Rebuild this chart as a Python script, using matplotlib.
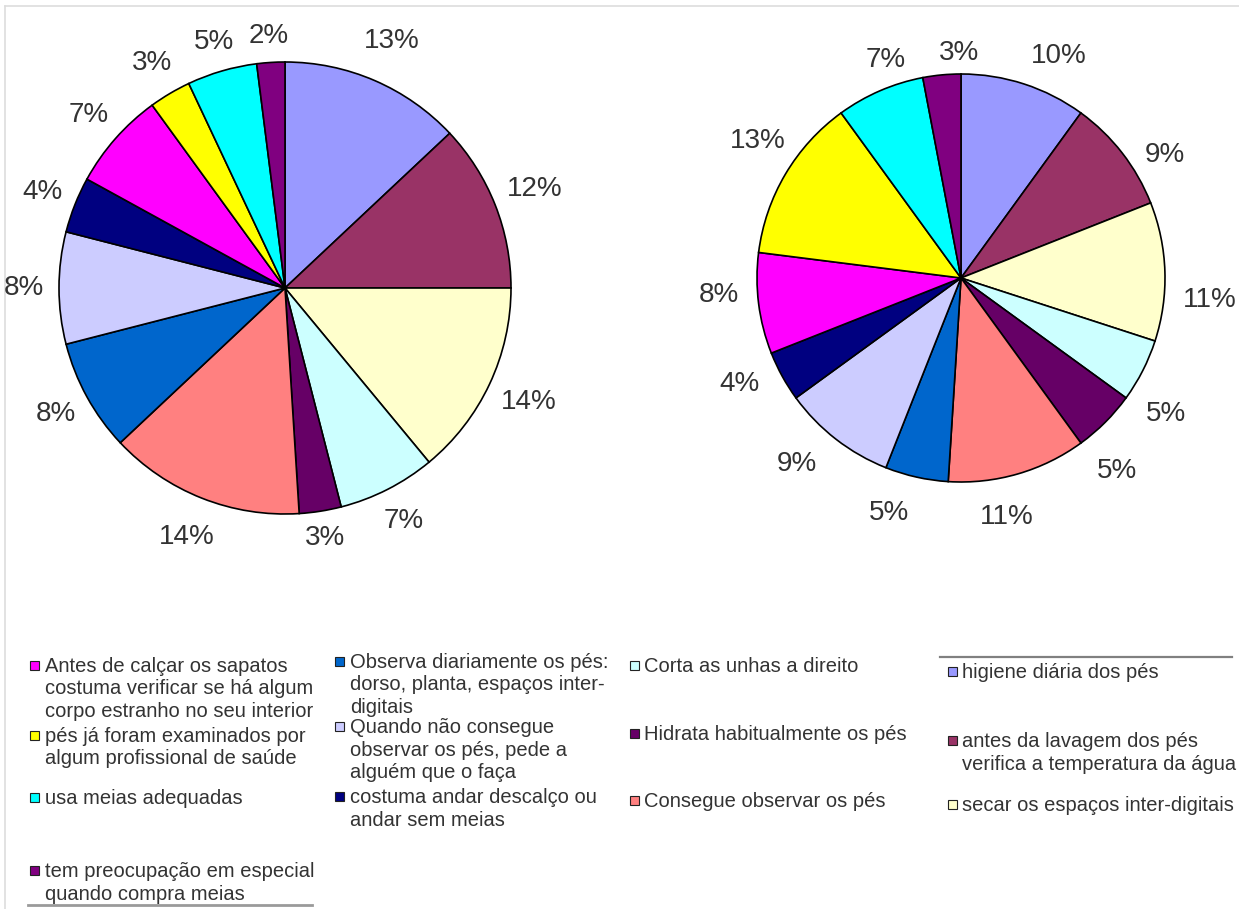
import matplotlib
matplotlib.use("Agg")
import matplotlib.pyplot as plt
from matplotlib.patches import Rectangle
from matplotlib.lines import Line2D
import numpy as np

# ---------------- data ----------------
categories = [
    "higiene diária dos pés",
    "antes da lavagem dos pés\nverifica a temperatura da água",
    "secar os espaços inter-digitais",
    "Corta as unhas a direito",
    "Hidrata habitualmente os pés",
    "Consegue observar os pés",
    "Observa diariamente os pés:\ndorso, planta, espaços inter-\ndigitais",
    "Quando não consegue\nobservar os pés, pede a\nalguém que o faça",
    "costuma andar descalço ou\nandar sem meias",
    "Antes de calçar os sapatos\ncostuma verificar se há algum\ncorpo estranho no seu interior",
    "pés já foram examinados por\nalgum profissional de saúde",
    "usa meias adequadas",
    "tem preocupação em especial\nquando compra meias",
]
colors = ["#9999FF", "#993366", "#FFFFCC", "#CCFFFF", "#660066", "#FF8080",
          "#0066CC", "#CCCCFF", "#000080", "#FF00FF", "#FFFF00", "#00FFFF",
          "#800080"]
left_values = [13, 12, 14, 7, 3, 14, 8, 8, 4, 7, 3, 5, 2]
right_values = [10, 9, 11, 5, 5, 11, 5, 9, 4, 8, 13, 7, 3]

# ---------------- layout ----------------
# legend layout: (category index, column, first-line y in image px)
legend_layout = [
    (9, 0, 665), (10, 0, 735), (11, 0, 797), (12, 0, 870),
    (6, 1, 661), (7, 1, 726), (8, 1, 796),
    (3, 2, 665), (4, 2, 733), (5, 2, 800),
    (0, 3, 671), (1, 3, 740), (2, 3, 804),
]
col_square_x = [30, 335, 630, 948]
col_text_x = [45, 350, 644, 962]
# pie geometry (image px) and label placement style per pie
pie_geom = [(285, 288, 226), (961, 278, 204)]
label_style = [dict(gap=15, rot=0.0, dy=0.0), dict(gap=18, rot=5.0, dy=8.0)]

W, H = 1239, 909
fig = plt.figure(figsize=(W / 100, H / 100), dpi=100)
fig.patch.set_facecolor("white")
ax = fig.add_axes([0, 0, 1, 1])
ax.set_axis_off()


def Y(y):
    return H - y


TXT = "#333333"
FONT = "Liberation Sans"
PFS = 20
clip_rect = Rectangle((6, 0), W, H - 7, transform=ax.transData, visible=False)
ax.add_patch(clip_rect)

pies = []
for values, (cx, cy, R) in zip([left_values, right_values], pie_geom):
    wedges, texts, autotexts = ax.pie(
        values, colors=colors, startangle=90, counterclock=False,
        center=(cx, Y(cy)), radius=R, autopct="%1.0f%%", pctdistance=1.2,
        wedgeprops=dict(edgecolor="black", linewidth=1.2),
        textprops=dict(fontsize=PFS, color=TXT, family=FONT), frame=True)
    pies.append((wedges, autotexts, cx, cy, R))

ax.set_xlim(0, W)
ax.set_ylim(0, H)
ax.set_aspect("auto")
ax.set_axis_off()

fig.canvas.draw()
renderer = fig.canvas.get_renderer()
hh = 0.4 * PFS * 100 / 72
s22 = np.sin(np.deg2rad(22))
for (wedges, autotexts, cx, cy, R), st in zip(pies, label_style):
    for w, t in zip(wedges, autotexts):
        ang = np.deg2rad((w.theta1 + w.theta2) / 2.0 - st["rot"])
        c, s = np.cos(ang), np.sin(ang)
        hw = t.get_window_extent(renderer).width / 2.0
        f = min(1.0, (abs(c) / s22) ** 3)
        d = R + st["gap"] + hh + (hw - hh) * f
        t.set_position((cx + d * c, Y(cy) + d * s - st["dy"]))
        t.set_ha("center")
        t.set_va("center")
        t.set_clip_path(clip_rect)

# ---------------- legend ----------------
LFS = 14.5
line_step = 22.5
sq = 9
for idx, col, y0 in legend_layout:
    ax.add_patch(Rectangle((col_square_x[col], Y(y0) - sq / 2), sq, sq,
                           facecolor=colors[idx], edgecolor="#222222",
                           linewidth=0.8))
    for k, line in enumerate(categories[idx].split("\n")):
        ax.text(col_text_x[col], Y(y0 + k * line_step + 7), line,
                fontsize=LFS, color=TXT, family=FONT, ha="left",
                va="baseline")

# decorative borders
ax.add_line(Line2D([940, 1232], [Y(657), Y(657)], color="#808080", lw=1.6))
ax.add_line(Line2D([28, 312], [Y(905), Y(905)], color="#9a9a9a", lw=2.0))
ax.add_line(Line2D([5, W], [Y(6), Y(6)], color="#dddddd", lw=1.2))
ax.add_line(Line2D([5, 5], [Y(6), 0], color="#dddddd", lw=1.2))

fig.savefig("out.png", dpi=100, facecolor="white")
